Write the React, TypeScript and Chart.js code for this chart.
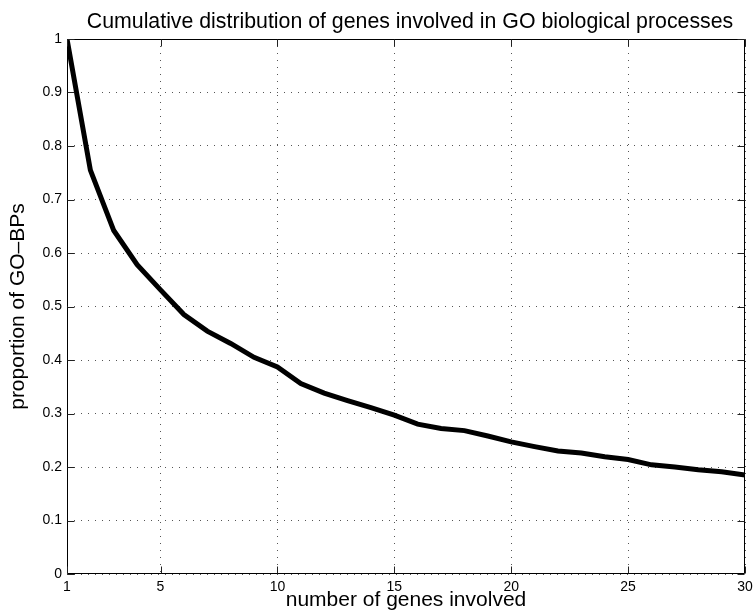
import React, { useEffect, useRef } from "react";
import { Chart, registerables } from "chart.js";

Chart.register(...registerables);

const genes = [1, 2, 3, 4, 5, 6, 7, 8, 9, 10, 11, 12, 13, 14, 15, 16, 17, 18, 19, 20, 21, 22, 23, 24, 25, 26, 27, 28, 29, 30];
const proportion = [1.0, 0.755, 0.642, 0.578, 0.531, 0.485, 0.454, 0.431, 0.405, 0.387, 0.356, 0.338, 0.324, 0.311, 0.297, 0.28, 0.272, 0.268, 0.258, 0.247, 0.238, 0.23, 0.226, 0.219, 0.214, 0.204, 0.2, 0.195, 0.191, 0.185];
const xTicks = [1, 5, 10, 15, 20, 25, 30];
const yTicks = [0, 0.1, 0.2, 0.3, 0.4, 0.5, 0.6, 0.7, 0.8, 0.9, 1];
const titleText = "Cumulative distribution of genes involved in GO biological processes";
const xLabel = "number of genes involved";
const yLabel = "proportion of GO\u2013BPs";

const FONT = "'Liberation Sans', Arial, Helvetica, sans-serif";

export default function App() {
  const ref = useRef<HTMLCanvasElement | null>(null);

  useEffect(() => {
    if (!ref.current) return;
    const framePlugin = {
      id: "matlabFrame",
      afterLayout(chart: any) {
        const t = chart.titleBlock;
        const a = chart.chartArea;
        if (t && a) {
          t.left = a.left + 4;
          t.right = a.right + 4;
          t.width = a.right - a.left;
        }
      },
      afterDraw(chart: any) {
        const { ctx, chartArea: a, scales } = chart;
        const L = Math.round(a.left) + 0.5;
        const R = Math.round(a.right) - 0.5;
        const T = Math.round(a.top) + 0.5;
        const B = Math.round(a.bottom) - 0.5;
        ctx.save();
        ctx.strokeStyle = "#000";
        ctx.lineWidth = 1;
        ctx.setLineDash([]);
        ctx.beginPath();
        ctx.rect(L, T, R - L, B - T);
        ctx.stroke();
        const tl = 7;
        ctx.strokeStyle = "#222";
        ctx.beginPath();
        yTicks.forEach((v) => {
          const y = Math.round(scales.y.getPixelForValue(v)) + 0.5;
          ctx.moveTo(L, y);
          ctx.lineTo(L + tl, y);
          ctx.moveTo(R, y);
          ctx.lineTo(R - tl, y);
        });
        xTicks.forEach((v) => {
          const x = Math.round(scales.x.getPixelForValue(v)) + 0.5;
          ctx.moveTo(x, B);
          ctx.lineTo(x, B - tl);
          ctx.moveTo(x, T);
          ctx.lineTo(x, T + tl);
        });
        ctx.stroke();
        ctx.restore();
      },
    };

    const chart = new Chart(ref.current, {
      type: "line",
      data: {
        datasets: [
          {
            data: genes.map((g, i) => ({ x: g, y: proportion[i] })),
            borderColor: "#000",
            borderWidth: 5,
            pointRadius: 0,
            tension: 0,
            fill: false,
            clip: 0,
          } as any,
        ],
      },
      options: {
        responsive: false,
        animation: false,
        devicePixelRatio: 1,
        layout: { padding: { left: 0, right: 8, top: 0, bottom: 0 } },
        font: { family: FONT },
        plugins: {
          legend: { display: false },
          tooltip: { enabled: false },
          title: {
            display: true,
            text: titleText,
            color: "#000",
            font: { family: FONT, size: 21.3, weight: "normal", lineHeight: 1 },
            padding: { top: 11, bottom: 6.7 },
          },
        },
        scales: {
          x: {
            type: "linear",
            min: 1,
            max: 30,
            afterBuildTicks: (s: any) => {
              s.ticks = xTicks.map((v) => ({ value: v }));
            },
            afterFit: (s: any) => {
              s.height = 37;
              s.paddingLeft = 0;
              s.paddingRight = 0;
            },
            ticks: {
              autoSkip: false,
              maxRotation: 0,
              minRotation: 0,
              padding: 5,
              color: "#000",
              font: { family: FONT, size: 14 },
              callback: (v: any) => String(v),
            },
            grid: { color: "#555", lineWidth: 1, drawTicks: false },
            border: { display: false, dash: [1, 6] },
            title: {
              display: true,
              text: xLabel,
              color: "#000",
              font: { family: FONT, size: 21, lineHeight: 1 },
              padding: { top: 0, bottom: 0 },
            },
          },
          y: {
            type: "linear",
            min: 0,
            max: 1,
            afterBuildTicks: (s: any) => {
              s.ticks = yTicks.map((v) => ({ value: v }));
            },
            afterFit: (s: any) => {
              s.width = 67;
              s.paddingTop = 0;
              s.paddingBottom = 0;
            },
            ticks: {
              padding: 5,
              color: "#000",
              font: { family: FONT, size: 14 },
              callback: (v: any) => String(v),
            },
            grid: { color: "#555", lineWidth: 1, drawTicks: false },
            border: { display: false, dash: [1, 6] },
            title: {
              display: true,
              text: yLabel,
              color: "#000",
              font: { family: FONT, size: 21, lineHeight: 1 },
              padding: { top: 7.5, bottom: 0 },
            },
          },
        },
      } as any,
      plugins: [framePlugin],
    });
    return () => chart.destroy();
  }, []);

  return (
    <div style={{ position: "fixed", left: 0, top: 0, width: 753, height: 611, background: "#fff" }}>
      <canvas ref={ref} width={753} height={611} style={{ display: "block", width: 753, height: 611 }} />
    </div>
  );
}
